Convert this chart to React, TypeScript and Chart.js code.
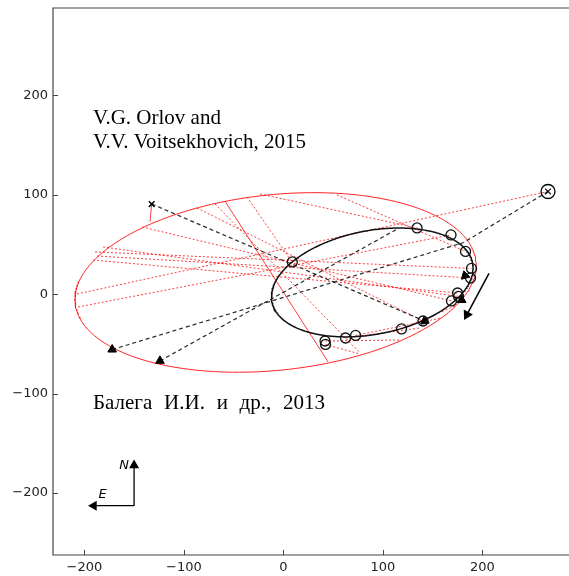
import React, { useEffect, useRef } from 'react';
import { Chart, registerables } from 'chart.js';

Chart.register(...registerables);

// ---- axes ----
const X_TICKS = [-200, -100, 0, 100, 200];
const Y_TICKS = [-200, -100, 0, 100, 200];
const X_MIN = -231.5;
const X_MAX = 287.1;
const Y_MIN = -262.3;
const Y_MAX = 288.0;

// ---- orbits: [centre x, centre y, semi-major, semi-minor, tilt (deg)] ----
const RED_ORBIT = [-7.8, 11.9, 202.5, 88.3, 6.0];
const BLACK_ORBIT = [89.4, 11.9, 102.7, 52.1, 11.0];

// ---- observations (open circles) ----
const OBS_X = [9, 134.4, 168.5, 183.1, 189.1, 188.1, 175.1, 176.1, 169, 140.4, 118.8, 72.6, 62.5, 41.9, 42.4];
const OBS_Y = [32.5, 66.7, 59.7, 43.1, 26, 16.4, 1.3, -2.2, -6.7, -26.9, -34.9, -41.4, -44, -47, -50.5];

// ---- filled triangles ----
const TRI_X = [-172, -124, 182.6, 179.3, 142];
const TRI_Y = [-55.6, -67, 18.7, -5.8, -27];
const TRI_ROT = [0, 0, 225, 120, 113];

// ---- special points ----
const CROSS_PT = [-132.3, 90.8];
const OTIMES_PT = [266, 103.4];

// ---- red dashed residual lines ----
const RED_FROM_X = [266, -206.3, -189.3, -187.2, -191.3, -181.2, -142, -86.7, -68.6, -36.5, -23.4, 54, 42.4, 41.9, 62.5, 72.6, 118.8];
const RED_FROM_Y = [103.4, -12.8, 42.6, 38.5, 34.5, 47.6, 67.7, 86.8, 90.8, 97.9, 100.9, 99.9, -50.5, -47, -44, -41.4, -34.9];
const RED_TO_X = [-207.3, 168.5, 189.1, 188.1, 175.1, 176.1, 169, 140.4, 77.1, 8.7, 134.4, 183.1, 77.1, 117.3, 137.4, 157.5, 172.6];
const RED_TO_Y = [0.3, 59.7, 26, 16.4, 1.3, -2.2, -6.7, -26.9, -59, 32.5, 66.7, 43.1, -60.1, -46, -33.9, -24.1, -11.8];

// ---- red solid segments ----
const RED_SOLID_FROM_X = [-58.6, -132.3];
const RED_SOLID_FROM_Y = [93.7, 90.8];
const RED_SOLID_TO_X = [45, -134];
const RED_SOLID_TO_Y = [-68.1, 73];

// ---- black dashed lines ----
const BLK_FROM_X = [-132.3, 266, -172, -124];
const BLK_FROM_Y = [90.8, 103.4, -55.6, -67];
const BLK_TO_X = [142, 181, 181, 114];
const BLK_TO_Y = [-27, 52, 52, 65.4];

// ---- motion arrow ----
const MOTION_X = [206.7, 184.5];
const MOTION_Y = [21, -20.5];
const MOTION_HEAD_ROT = 208;

// ---- compass ----
const COMPASS_CORNER = [-150, -212.7];
const COMPASS_N_TIP = [-150, -172];
const COMPASS_E_TIP = [-190.5, -212.7];
const COMPASS_N_LABEL = [-160, -172.2];
const COMPASS_E_LABEL = [-181.7, -201.9];

// ---- annotations ----
const LABEL_TEXTS = ['V.G. Orlov and', 'V.V. Voitsekhovich, 2015', 'Балега И.И. и др., 2013'];
const LABEL_X = [-191.3, -191.3, -191.3];
const LABEL_Y = [171.5, 147, -115.4];
const LABEL_WORD_SPACING = ['0px', '0px', '6.5px'];

function ellipsePoints(o: number[]) {
  const [cx, cy, a, b, deg] = o;
  const al = (deg * Math.PI) / 180;
  const pts: { x: number; y: number }[] = [];
  for (let i = 0; i <= 360; i++) {
    const t = (i * Math.PI) / 180;
    pts.push({
      x: cx + a * Math.cos(t) * Math.cos(al) - b * Math.sin(t) * Math.sin(al),
      y: cy + a * Math.cos(t) * Math.sin(al) + b * Math.sin(t) * Math.cos(al),
    });
  }
  return pts;
}

const fmt = (v: number) => (v < 0 ? '\u2212' + Math.abs(v) : String(v));

export default function App() {
  const ref = useRef<HTMLCanvasElement | null>(null);

  useEffect(() => {
    if (!ref.current) return;
    const datasets: any[] = [];

    // markers (on top)
    datasets.push({
      data: OBS_X.map((x, i) => ({ x, y: OBS_Y[i] })),
      showLine: false,
      pointStyle: 'circle',
      pointRadius: 5,
      borderColor: '#111',
      backgroundColor: 'rgba(255,255,255,0)',
      borderWidth: 1.3,
      order: 0,
    });
    datasets.push({
      data: TRI_X.map((x, i) => ({ x, y: TRI_Y[i] })),
      showLine: false,
      pointStyle: 'triangle',
      pointRadius: 5,
      rotation: TRI_ROT,
      borderColor: '#000',
      backgroundColor: '#000',
      borderWidth: 1,
      order: 0,
    });
    datasets.push({
      data: [{ x: CROSS_PT[0], y: CROSS_PT[1] }],
      showLine: false,
      pointStyle: 'crossRot',
      pointRadius: 4,
      borderColor: '#000',
      borderWidth: 1.5,
      order: 0,
    });
    datasets.push({
      data: [{ x: OTIMES_PT[0], y: OTIMES_PT[1] }],
      showLine: false,
      pointStyle: 'circle',
      pointRadius: 7,
      borderColor: '#000',
      backgroundColor: 'rgba(255,255,255,0)',
      borderWidth: 1.3,
      order: 0,
    });
    datasets.push({
      data: [{ x: OTIMES_PT[0], y: OTIMES_PT[1] }],
      showLine: false,
      pointStyle: 'crossRot',
      pointRadius: 4,
      borderColor: '#000',
      borderWidth: 1.2,
      order: 0,
    });

    // motion arrow
    datasets.push({
      data: MOTION_X.map((x, i) => ({ x, y: MOTION_Y[i] })),
      showLine: true,
      borderColor: '#000',
      backgroundColor: '#000',
      borderWidth: 1.5,
      pointStyle: 'triangle',
      pointRadius: [0, 4.5],
      rotation: [0, MOTION_HEAD_ROT],
      order: 1,
    });
    // compass
    datasets.push({
      data: [
        { x: COMPASS_CORNER[0], y: COMPASS_CORNER[1] },
        { x: COMPASS_N_TIP[0], y: COMPASS_N_TIP[1] },
      ],
      showLine: true,
      borderColor: '#000',
      backgroundColor: '#000',
      borderWidth: 1.3,
      pointStyle: 'triangle',
      pointRadius: [0, 4.5],
      rotation: [0, 0],
      order: 1,
    });
    datasets.push({
      data: [
        { x: COMPASS_CORNER[0], y: COMPASS_CORNER[1] },
        { x: COMPASS_E_TIP[0], y: COMPASS_E_TIP[1] },
      ],
      showLine: true,
      borderColor: '#000',
      backgroundColor: '#000',
      borderWidth: 1.3,
      pointStyle: 'triangle',
      pointRadius: [0, 4.5],
      rotation: [0, 270],
      order: 1,
    });

    // black dashed
    BLK_FROM_X.forEach((fx, i) => {
      datasets.push({
        data: [
          { x: fx, y: BLK_FROM_Y[i] },
          { x: BLK_TO_X[i], y: BLK_TO_Y[i] },
        ],
        showLine: true,
        borderColor: 'rgba(20,20,20,0.9)',
        borderWidth: 1.2,
        borderDash: [4, 3],
        pointRadius: 0,
        order: 3,
      });
    });

    // red dashed residuals
    RED_FROM_X.forEach((fx, i) => {
      datasets.push({
        data: [
          { x: fx, y: RED_FROM_Y[i] },
          { x: RED_TO_X[i], y: RED_TO_Y[i] },
        ],
        showLine: true,
        borderColor: 'rgba(255,0,0,0.85)',
        borderWidth: 0.9,
        borderDash: [2, 2],
        pointRadius: 0,
        order: 4,
      });
    });
    RED_SOLID_FROM_X.forEach((fx, i) => {
      datasets.push({
        data: [
          { x: fx, y: RED_SOLID_FROM_Y[i] },
          { x: RED_SOLID_TO_X[i], y: RED_SOLID_TO_Y[i] },
        ],
        showLine: true,
        borderColor: 'rgba(255,0,0,0.85)',
        borderWidth: 0.9,
        pointRadius: 0,
        order: 4,
      });
    });

    // orbits
    datasets.push({
      data: ellipsePoints(BLACK_ORBIT),
      showLine: true,
      borderColor: '#111',
      borderWidth: 1.5,
      pointRadius: 0,
      order: 2,
    });
    datasets.push({
      data: ellipsePoints(RED_ORBIT),
      showLine: true,
      borderColor: 'rgba(255,20,20,0.95)',
      borderWidth: 1,
      pointRadius: 0,
      order: 5,
    });

    const framePlugin = {
      id: 'frame',
      beforeDatasetsDraw(chart: any) {
        const { ctx, chartArea: ca, scales } = chart;
        const xs = scales.x;
        const ys = scales.y;
        ctx.save();
        ctx.strokeStyle = '#444';
        ctx.lineWidth = 1.2;
        ctx.beginPath();
        ctx.moveTo(ca.right + 2, ca.top);
        ctx.lineTo(ca.left, ca.top);
        ctx.lineTo(ca.left, ca.bottom);
        ctx.lineTo(ca.right + 2, ca.bottom);
        ctx.stroke();
        ctx.lineWidth = 1;
        ctx.beginPath();
        X_TICKS.forEach((v) => {
          const px = Math.round(xs.getPixelForValue(v)) + 0.5;
          ctx.moveTo(px, ca.bottom);
          ctx.lineTo(px, ca.bottom - 5);
        });
        Y_TICKS.forEach((v) => {
          const py = Math.round(ys.getPixelForValue(v)) + 0.5;
          ctx.moveTo(ca.left, py);
          ctx.lineTo(ca.left + 5, py);
        });
        ctx.stroke();
        ctx.restore();
      },
      afterDatasetsDraw(chart: any) {
        const { ctx, scales } = chart;
        const xs = scales.x;
        const ys = scales.y;
        ctx.save();
        ctx.fillStyle = '#000';
        ctx.textAlign = 'left';
        ctx.textBaseline = 'alphabetic';
        ctx.font = '21px "Liberation Serif", "Times New Roman", serif';
        LABEL_TEXTS.forEach((t, i) => {
          (ctx as any).wordSpacing = LABEL_WORD_SPACING[i];
          ctx.fillText(t, xs.getPixelForValue(LABEL_X[i]), ys.getPixelForValue(LABEL_Y[i]));
        });
        (ctx as any).wordSpacing = '0px';
        ctx.font = 'italic 13px "DejaVu Sans", sans-serif';
        ctx.textAlign = 'center';
        ctx.textBaseline = 'middle';
        ctx.fillText('N', xs.getPixelForValue(COMPASS_N_LABEL[0]), ys.getPixelForValue(COMPASS_N_LABEL[1]));
        ctx.fillText('E', xs.getPixelForValue(COMPASS_E_LABEL[0]), ys.getPixelForValue(COMPASS_E_LABEL[1]));
        ctx.restore();
      },
    };

    const chart = new Chart(ref.current, {
      type: 'scatter',
      data: { datasets },
      options: {
        responsive: false,
        animation: false,
        events: [],
        layout: { autoPadding: false, padding: { top: 8, right: 0, left: 0, bottom: 0 } },
        plugins: { legend: { display: false }, tooltip: { enabled: false } },
        scales: {
          x: {
            type: 'linear',
            min: X_MIN,
            max: X_MAX,
            grid: { display: false, drawTicks: false },
            border: { display: false },
            afterBuildTicks: (s: any) => {
              s.ticks = X_TICKS.map((v) => ({ value: v }));
            },
            afterFit: (s: any) => {
              s.height = 21;
              s.paddingLeft = 0;
              s.paddingRight = 0;
            },
            ticks: {
              padding: 5,
              color: '#222',
              font: { family: '"DejaVu Sans", sans-serif', size: 13 },
              maxRotation: 0,
              autoSkip: false,
              callback: (v: any) => fmt(Number(v)),
            },
          },
          y: {
            type: 'linear',
            min: Y_MIN,
            max: Y_MAX,
            grid: { display: false, drawTicks: false },
            border: { display: false },
            afterBuildTicks: (s: any) => {
              s.ticks = Y_TICKS.map((v) => ({ value: v }));
            },
            afterFit: (s: any) => {
              s.width = 53;
              s.paddingTop = 0;
              s.paddingBottom = 0;
            },
            ticks: {
              padding: 5,
              color: '#222',
              font: { family: '"DejaVu Sans", sans-serif', size: 13 },
              autoSkip: false,
              callback: (v: any) => fmt(Number(v)),
            },
          },
        },
      },
      plugins: [framePlugin],
    });
    return () => chart.destroy();
  }, []);

  return (
    <div style={{ position: 'fixed', left: 0, top: 0, width: 569, height: 576, background: '#fff' }}>
      <canvas ref={ref} width={569} height={576} style={{ display: 'block' }} />
    </div>
  );
}
